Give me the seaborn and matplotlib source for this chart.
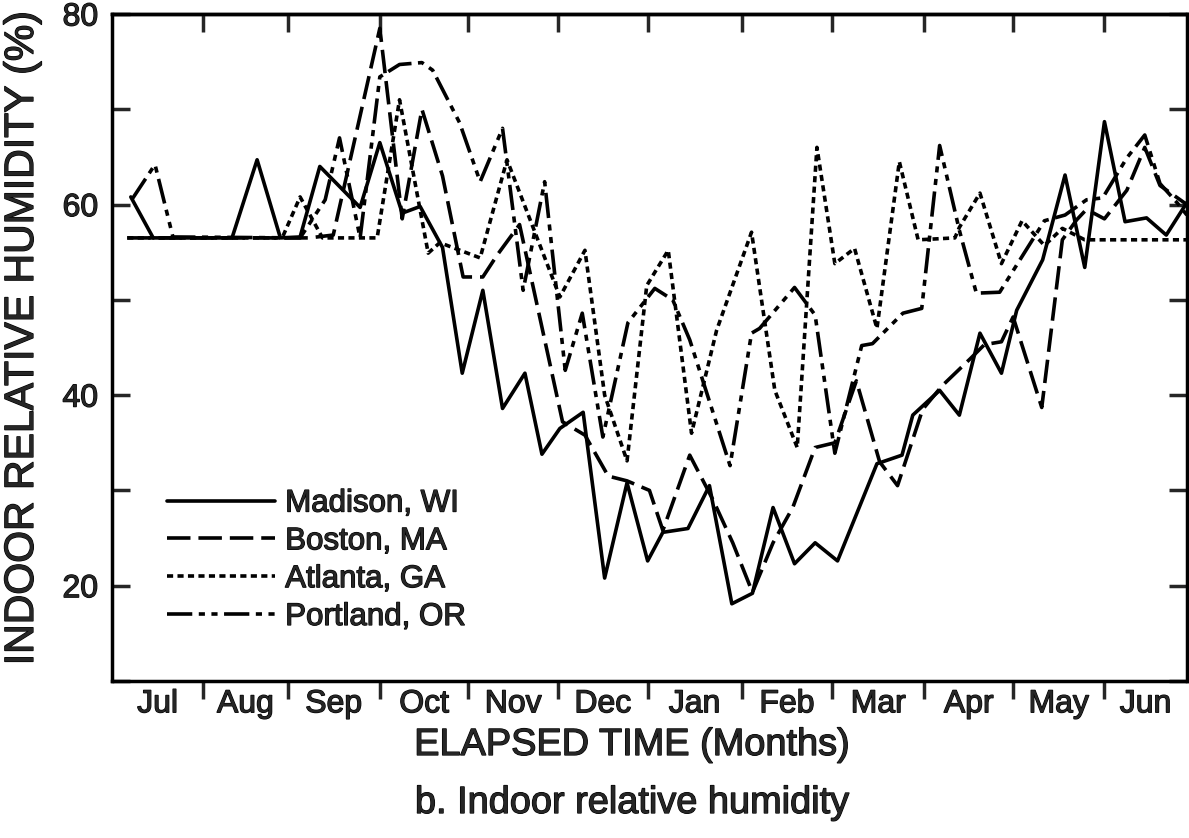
import numpy as np
import pandas as pd
import seaborn as sns
import matplotlib
matplotlib.use("Agg")
from matplotlib import pyplot as plt
from matplotlib import patheffects
from matplotlib.ticker import FixedLocator, NullFormatter, FixedFormatter

# elapsed time in months from 1 July, indoor RH in %
madison_t = [0.21, 0.46, 1.34, 1.62, 1.88, 2.10, 2.32, 2.77, 2.99, 3.24, 3.44, 3.69, 3.91,
             4.14, 4.36, 4.61, 4.80, 5.00, 5.26, 5.50, 5.75, 5.98, 6.15, 6.43, 6.67, 6.92,
             7.15, 7.38, 7.62, 7.85, 8.10, 8.54, 8.82, 8.94, 9.24, 9.46, 9.69, 9.93, 10.10,
             10.39, 10.64, 10.86, 11.08, 11.31, 11.55, 11.77, 12.00]
madison_rh = [60.8, 56.5, 56.5, 64.7, 56.5, 56.6, 64.0, 59.7, 66.5, 59.1, 59.8, 55.5, 42.3,
              51.0, 38.6, 42.3, 33.8, 36.5, 38.2, 20.8, 30.8, 22.6, 25.6, 26.0, 30.5, 18.1,
              19.2, 28.2, 22.3, 24.5, 22.6, 32.8, 33.7, 37.9, 40.5, 37.9, 46.5, 42.3, 48.9,
              54.2, 63.1, 53.4, 68.7, 58.2, 58.6, 56.8, 60.2]

boston_t = [0.17, 2.20, 2.47, 2.99, 3.24, 3.46, 3.69, 3.92, 4.14, 4.30, 4.55, 5.03, 5.28,
            5.54, 5.75, 6.00, 6.15, 6.45, 6.71, 6.93, 7.15, 7.38, 7.60, 7.85, 8.07, 8.31,
            8.57, 8.77, 9.05, 9.27, 9.58, 9.74, 9.93, 10.06, 10.38, 10.61, 10.77, 10.88,
            11.08, 11.33, 11.53, 11.70, 12.00]
boston_rh = [56.5, 56.5, 56.8, 78.5, 58.5, 70.0, 63.0, 52.4, 52.4, 54.7, 57.9, 37.2, 35.8,
             31.5, 31.0, 30.0, 25.8, 33.7, 29.0, 24.5, 19.3, 24.5, 28.2, 34.5, 35.0, 41.5,
             33.0, 30.5, 38.5, 41.0, 43.8, 45.3, 45.6, 48.2, 38.7, 56.3, 58.4, 59.5,
             58.5, 61.5, 66.0, 62.0, 60.0]

atlanta_t = [0.17, 1.90, 2.10, 2.35, 2.96, 3.21, 3.53, 3.66, 4.11, 4.41, 5.00, 5.28, 5.50,
             5.75, 5.97, 6.21, 6.47, 6.75, 7.14, 7.40, 7.65, 7.87, 8.07, 8.29, 8.54, 8.79,
             9.00, 9.41, 9.46, 9.69, 9.93, 10.16, 10.41, 10.61, 10.86, 12.00]
atlanta_rh = [56.5, 56.5, 60.8, 56.5, 56.5, 71.0, 54.9, 56.0, 54.4, 64.7, 50.3, 55.2, 40.0,
              33.1, 51.5, 55.2, 36.0, 46.8, 57.1, 40.5, 34.5, 66.0, 53.8, 55.4, 47.0, 64.5,
              56.3, 56.5, 57.6, 61.2, 53.8, 58.3, 55.7, 57.5, 56.3, 56.3]

portland_t = [0.22, 0.48, 0.68, 2.10, 2.38, 2.54, 2.77, 2.99, 3.21, 3.46, 3.58, 3.88, 4.11,
              4.36, 4.59, 4.83, 5.06, 5.25, 5.48, 5.76, 6.06, 6.26, 6.45, 6.90, 7.14, 7.23,
              7.62, 7.85, 8.07, 8.37, 8.49, 8.83, 9.04, 9.24, 9.46, 9.65, 9.91, 10.11,
              10.41, 10.64, 10.88, 11.06, 11.33, 11.53, 11.70, 11.89, 12.00]
portland_rh = [60.5, 64.2, 56.6, 56.5, 60.5, 67.0, 56.5, 73.4, 74.7, 74.9, 74.1, 68.6, 62.4,
               68.0, 51.0, 62.4, 42.6, 48.6, 35.6, 47.6, 51.2, 50.0, 45.8, 32.6, 46.5, 47.0,
               51.3, 48.4, 33.9, 45.2, 45.4, 48.6, 49.1, 66.2, 57.3, 50.7, 50.8, 53.8,
               58.3, 58.9, 60.5, 60.7, 64.9, 67.3, 62.2, 60.2, 58.9]

cities = ["Madison, WI", "Boston, MA", "Atlanta, GA", "Portland, OR"]
month_edges = [0, 1.02, 1.96, 2.99, 3.98, 4.98, 5.98, 7.03, 8.04, 9.07, 10.06, 11.08, 12]
month_names = ["Jul", "Aug", "Sep", "Oct", "Nov", "Dec", "Jan", "Feb", "Mar", "Apr", "May", "Jun"]

frames = []
for city, t, rh in zip(cities, [madison_t, boston_t, atlanta_t, portland_t],
                       [madison_rh, boston_rh, atlanta_rh, portland_rh]):
    frames.append(pd.DataFrame({"t": t, "rh": rh, "city": city}))
df = pd.concat(frames, ignore_index=True)

sns.set_style("ticks")
plt.rcParams['font.family'] = ['Liberation Sans', 'DejaVu Sans']

# slight stroke on text to mimic the heavy print of the original
heavy = [patheffects.withStroke(linewidth=0.9, foreground="black")]

fig = plt.figure(figsize=(11.89, 8.38), dpi=100)
ax = fig.add_axes([0.0942, 0.1874, 0.9040, 0.7959])

dash_styles = {"Madison, WI": "", "Boston, MA": (6.5, 2.2),
               "Atlanta, GA": (1.7, 1.2), "Portland, OR": (7, 1.8, 1.7, 1.8, 1.7, 1.8)}
sns.lineplot(data=df, x="t", y="rh", hue="city", style="city",
             palette={c: "black" for c in cities}, dashes=dash_styles,
             estimator=None, lw=2.6, ax=ax, legend=True)

ax.set_xlim(0, 12)
ax.set_ylim(10, 80)
for s in ax.spines.values():
    s.set_linewidth(2.5)
    s.set_color("black")

# y ticks: labelled every 20, unlabelled every 10, inward both sides
ax.yaxis.set_major_locator(FixedLocator([20, 40, 60, 80]))
ax.yaxis.set_minor_locator(FixedLocator([10, 30, 50, 70]))
ax.tick_params(axis="y", which="both", direction="in", length=13, width=2.5,
               left=True, right=True, labelsize=23, pad=10)

# x: month boundaries as ticks, names centred between them
ax.xaxis.set_major_locator(FixedLocator(month_edges[1:-1]))
ax.xaxis.set_major_formatter(NullFormatter())
centers = [(a + b) / 2 for a, b in zip(month_edges[:-1], month_edges[1:])]
ax.xaxis.set_minor_locator(FixedLocator(centers))
ax.xaxis.set_minor_formatter(FixedFormatter(month_names))
ax.tick_params(axis="x", which="major", direction="out", length=13, width=2.5, top=False)
ax.tick_params(axis="x", which="minor", length=0, labelsize=23, pad=6)

top = ax.secondary_xaxis("top")
top.set_xticks(month_edges[1:-1])
top.tick_params(direction="in", length=13, width=2.5, labeltop=False)
top.spines["top"].set_linewidth(2.5)

ax.set_xlabel("")
ax.set_ylabel("")
fig.text(632 / 1189, 1 - 745 / 838, "ELAPSED TIME (Months)", ha="center", va="center",
         fontsize=27.3, path_effects=heavy)
fig.text(22 / 1189, 1 - 338 / 838, "INDOOR RELATIVE HUMIDITY (%)", ha="center", va="center",
         rotation=90, fontsize=29.5, path_effects=heavy)
fig.text(632 / 1189, 1 - 803 / 838, "b. Indoor relative humidity", ha="center", va="center",
         fontsize=27.3, path_effects=heavy)

handles, labels = ax.get_legend_handles_labels()
leg = ax.legend(handles, labels, loc="lower left", bbox_to_anchor=(0.037, 0.05), frameon=False,
                fontsize=22.5, handlelength=3.45, handletextpad=0.32, labelspacing=0.25,
                borderpad=0)
for line in leg.get_lines():
    line.set_linewidth(2.6)
for txt in leg.get_texts():
    txt.set_path_effects(heavy)
for lab in ax.get_xticklabels(minor=True) + ax.get_yticklabels():
    lab.set_path_effects(heavy)

fig.savefig("out.png", dpi=100)
